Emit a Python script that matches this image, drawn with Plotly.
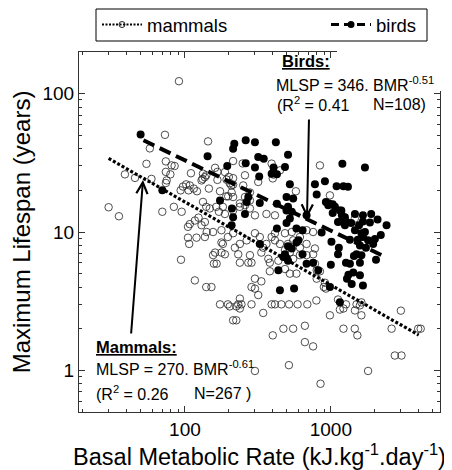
import math
import plotly.graph_objects as go

# values (BMR in kJ/kg/day, MLSP in years)
mammals_bmr = [91, 73, 57.5, 54.5, 38.8, 45.5, 59, 74, 81, 85, 74, 79.5, 75, 74, 144, 30, 35.3, 70, 84, 95,
               110, 161, 137, 132, 97, 102, 108, 115, 106, 121, 93.5, 167, 200, 208, 192, 108, 117, 124, 105, 105,
               120, 107, 94, 117, 214, 249, 188, 133, 140, 130, 167, 214, 258, 203, 214, 146, 174, 209, 198, 214,
               279, 393, 448, 405, 405, 318, 576, 251, 842, 986, 400, 133, 140, 148, 164, 182, 171, 188, 214, 238,
               258, 279, 302, 362, 414, 137, 130, 156, 141, 137, 178, 214, 197, 238, 220, 265, 302, 326, 344, 362,
               393, 414, 414, 448, 509, 552, 614, 682, 756, 614, 682, 485, 540, 161, 156, 158, 165, 178, 182, 178,
               188, 232, 238, 279, 272, 286, 334, 373, 382, 382, 437, 485, 524, 552, 614, 682, 756, 778, 485, 524,
               581, 778, 302, 334, 140, 152, 286, 302, 318, 238, 225, 232, 244, 238, 174, 197, 203, 286, 344, 393,
               414, 458, 518, 592, 690, 796, 214, 225, 473, 552, 664, 400, 2745, 3050, 1800, 850, 664, 756, 516, 302,
               3020, 2610, 3970, 4130, 1220, 1460, 1520, 986, 800, 925, 800, 1460, 842, 911, 896, 1120, 1270, 1220,
               1154, 1500, 1583, 1620, 1463, 1620, 193, 258, 279, 238]
mammals_mlsp = [123, 50.4, 40.2, 31.1, 26.1, 24.6, 24.2, 32.4, 30.3, 30, 27.2, 26.1, 23.6, 22.6, 45.2, 15.1, 13, 14,
                15.2, 14, 26.6, 29.1, 24.9, 24.2, 21.3, 22.1, 21.7, 20.6, 20, 19.7, 20, 27.2, 25, 21.7, 18.1, 11.4,
                12.1, 12.7, 10.9, 9.1, 9.1, 8.2, 6.3, 4.47, 32.6, 31.3, 27.1, 26.4, 25.7, 23.6, 23.8, 24.5, 25.7,
                22.5, 22, 20.6, 19.7, 19.3, 18.1, 17.9, 19.3, 31.2, 27.9, 27.1, 26, 23, 19.7, 21.7, 30.3, 18.4, 24.4,
                16.5, 15.2, 14.8, 15.2, 15.2, 14, 13.5, 14.3, 15.2, 15.6, 14.8, 13.2, 13.5, 13.2, 11.8, 11.2, 10, 10,
                9.2, 10.3, 9.8, 9.2, 8.2, 7.7, 8.7, 9.8, 9.2, 7.7, 8.2, 9.2, 9.8, 8.7, 8.2, 8.2, 8.7, 9.2, 10.3, 10,
                7.7, 8.2, 9.8, 10, 7.1, 6.8, 5.9, 5.9, 7.1, 8.2, 8.4, 6.9, 6.9, 6, 6.8, 6, 6, 7.1, 6.4, 6, 5.2, 6.2,
                7.4, 7.1, 6.4, 6.8, 6.8, 6.9, 7.6, 5.4, 5, 5, 5.9, 4.6, 4.4, 4.0, 4.0, 4.0, 3.9, 3.5, 3.3, 2.9, 3.0,
                3.0, 2.8, 3.0, 3.0, 2.9, 3.0, 2.6, 3.0, 3.0, 3.0, 3.0, 3.0, 3.0, 3.2, 2.3, 2.3, 2.0, 2.0, 2.1, 1.79,
                1.28, 1.28, 0.99, 0.8, 1.6, 1.49, 1.09, 0.99, 2.7, 2.0, 2.0, 2.0, 2.0, 2.0, 1.79, 2.5, 4.6, 3.9, 5.3,
                12.5, 5.2, 4.3, 4.0, 3.25, 3.0, 2.8, 2.75, 3.0, 2.95, 3.1, 2.71, 2.5, 23.9, 17.9, 16.9, 16.1]

birds_bmr = [49.7, 70, 143, 195, 218, 214, 210, 261, 302, 420, 509, 318, 347, 261, 302, 405, 485, 393, 427, 323,
             524, 272, 497, 1200, 1713, 778, 800, 1095, 1220, 1310, 552, 911, 509, 925, 960, 1067, 1154, 1190, 1249,
             1463, 1660, 1890, 2410, 1120, 1280, 1380, 265, 326, 427, 497, 540, 682, 214, 209, 258, 427, 497, 524,
             581, 640, 326, 509, 581, 485, 497, 509, 540, 682, 756, 437, 448, 560, 820, 174, 600, 640, 986, 1154,
             865, 1010, 473, 973, 1030, 1030, 1180, 1180, 1249, 1660, 1853, 2090, 1560, 1463, 1620, 1713, 1352,
             1530, 1660, 1800, 2005, 2200, 1583, 1740, 1950, 1135, 1500, 1440, 1620, 2040, 1120, 1270, 1352, 1583,
             1000, 1425, 1320, 1583, 1290, 1390, 1660]
birds_mlsp = [50.7, 20, 35.3, 30, 43.5, 40, 14.8, 46, 44.6, 44.6, 36.2, 34.9, 33.9, 31.4, 29.2, 29.2, 29.5, 26.4,
              26.1, 25.2, 22.1, 17.9, 17.9, 31.2, 29.2, 22.1, 18.7, 21.4, 21.4, 21.2, 17.5, 23.3, 15.2, 16.5, 15.6,
              15.2, 14.3, 13.2, 12.8, 13.5, 13.2, 13.5, 11.2, 11.8, 11.8, 11.6, 16.5, 16.2, 16.0, 14.3, 14, 13.2,
              12.8, 11.2, 13.5, 10.6, 11.6, 12.5, 10.6, 10.3, 8.2, 7.9, 8.4, 6.9, 6.5, 6.2, 7.6, 5.9, 6.0, 5.3, 3.8,
              3.9, 5.3, 16.9, 8.7, 6.9, 4.0, 3.1, 9.9, 8.5, 6.6, 16.1, 15.9, 13.7, 14.3, 11.9, 11.2, 11.9, 11.7,
              12.3, 11.2, 10.3, 9.8, 10, 8.8, 8.8, 9.2, 8.7, 8.9, 9.5, 8.0, 7.7, 8.2, 7.7, 6.9, 6.7, 6.8, 6.3, 6.9,
              6.0, 5.9, 6.0, 5.8, 5.1, 4.9, 4.86, 4.6, 4.2, 4.1]

# fitted lines, end points
mammals_fit_bmr = [30, 4000]
mammals_fit_mlsp = [34, 1.8]
birds_fit_bmr = [52, 2300]
birds_fit_mlsp = [46, 6.7]

FONT = "Liberation Sans, Arial, Helvetica, sans-serif"
AX = '#333333'
PAGE_PAD = 8   # the html body margin moves the figure 8px right and down
W, H = 452 - PAGE_PAD, 470 - PAGE_PAD

fig = go.Figure()

fig.add_trace(go.Scatter(x=mammals_bmr, y=mammals_mlsp, mode='markers', showlegend=False,
                         marker=dict(symbol='circle-open', size=7.5, color='#222222', line=dict(width=0.8))))
fig.add_trace(go.Scatter(x=birds_bmr, y=birds_mlsp, mode='markers', showlegend=False,
                         marker=dict(symbol='circle', size=8, color='black', line=dict(width=0))))
fig.add_trace(go.Scatter(x=mammals_fit_bmr, y=mammals_fit_mlsp, mode='lines', showlegend=False,
                         line=dict(color='black', width=3.2, dash='3px,2px')))
fig.add_trace(go.Scatter(x=birds_fit_bmr, y=birds_fit_mlsp, mode='lines', showlegend=False,
                         line=dict(color='black', width=4, dash='12px,6px')))

# legend entries only (one legend each, so they can sit at both ends of the box)
fig.add_trace(go.Scatter(x=[None], y=[None], mode='lines+markers', name='mammals', legend='legend',
                         line=dict(color='black', width=2, dash='2px,1.5px'),
                         marker=dict(symbol='circle-open', size=6, color='#222222', line=dict(width=1))))
fig.add_trace(go.Scatter(x=[None], y=[None], mode='lines+markers', name='birds', legend='legend2',
                         line=dict(color='black', width=3, dash='8px,5px'),
                         marker=dict(symbol='circle', size=7, color='black')))

x_minor = [m * 10 ** e for e in (1, 2, 3) for m in range(2, 10) if m * 10 ** e < 5600]
y_minor = [m * 10 ** e for e in (-1, 0, 1, 2) for m in range(2, 10) if 0.5 <= m * 10 ** e <= 200]


# reference picture pixels -> paper fractions of the plot area (x 79..440, y 52..412)
def px_x(p):
    return (p - 79) / 361.0


def px_y(p):
    return (412 - p) / 360.0


notes = [
    ('<b><u>Birds:</u></b>', 280, 61, 16.5),
    ('MLSP = 346. BMR<sup>-0.51</sup>', 274, 84, 16),
    ('(R<sup>2</sup> = 0.41', 275, 104, 16),
    ('N=108)', 371, 104, 16),
    ('<b><u>Mammals:</u></b>', 94, 347, 16.5),
    ('MLSP = 270. BMR<sup>-0.61</sup>', 94, 368, 16),
    ('(R<sup>2</sup> = 0.26', 94, 393, 16),
    ('N=267 )', 192, 393, 16),
]
annotations = []
for text, x, y, size in notes:
    annotations.append(dict(text=text, x=px_x(x), y=px_y(y), xref='paper', yref='paper',
                            xanchor='left', yanchor='middle', showarrow=False,
                            font=dict(size=size, family=FONT, color='black')))

# arrows pointing at the fitted lines
annotations.append(dict(text='', x=px_x(307), y=px_y(218), xref='paper', yref='paper',
                        ax=2, ay=-100, showarrow=True, arrowhead=5, arrowsize=1.1,
                        arrowwidth=2, arrowcolor='black'))
annotations.append(dict(text='', x=px_x(143), y=px_y(180), xref='paper', yref='paper',
                        ax=-12, ay=155, showarrow=True, arrowhead=5, arrowsize=1.1,
                        arrowwidth=2, arrowcolor='black'))

# legends placed on the whole figure, so they do not push the top margin
legend_common = dict(orientation='h', xref='container', yref='container',
                     y=1 - (25 - PAGE_PAD) / H, yanchor='middle', bgcolor='rgba(0,0,0,0)',
                     borderwidth=0, font=dict(size=18.5, family=FONT, color='black'), itemwidth=40)

fig.update_layout(
    width=W, height=H,
    margin=dict(l=79 - PAGE_PAD, r=12, t=52 - PAGE_PAD, b=58),
    paper_bgcolor='white', plot_bgcolor='white',
    font=dict(family=FONT, color='black', size=19),
    legend=dict(x=(97 - PAGE_PAD) / W, xanchor='left', **legend_common),
    legend2=dict(x=(422 - PAGE_PAD) / W, xanchor='right', **legend_common),
    annotations=annotations,
    shapes=[
        dict(type='rect', xref='paper', yref='paper', x0=px_x(337), x1=1.05,
             y0=px_y(91), y1=px_y(44), fillcolor='white', line=dict(width=0), layer='above'),
        dict(type='rect', xref='paper', yref='paper', x0=px_x(96), x1=px_x(427),
             y0=px_y(41), y1=px_y(9), fillcolor='rgba(0,0,0,0)', line=dict(color='black', width=1),
             layer='above'),
    ],
    xaxis=dict(type='log', range=[math.log10(18.8), math.log10(5600)], automargin=False,
               tickvals=[100, 1000], ticktext=['100', '1000'],
               ticks='inside', ticklen=6, tickcolor=AX, tickfont=dict(size=19),
               showline=True, linecolor=AX, linewidth=1, mirror='allticks',
               showgrid=False, zeroline=False,
               minor=dict(ticks='inside', ticklen=3, tickcolor=AX, tickvals=x_minor, showgrid=False),
               title=dict(text='Basal Metabolic Rate (kJ.kg<sup>-1</sup>.day<sup>-1</sup>)',
                          font=dict(size=23.5), standoff=10)),
    yaxis=dict(type='log', range=[math.log10(0.5), math.log10(200)], automargin=False,
               tickvals=[1, 10, 100], ticktext=['1', '10', '100'],
               ticks='inside', ticklen=6, tickcolor=AX, tickfont=dict(size=19),
               showline=True, linecolor=AX, linewidth=1, mirror='allticks',
               showgrid=False, zeroline=False,
               minor=dict(ticks='inside', ticklen=3, tickcolor=AX, tickvals=y_minor, showgrid=False),
               title=dict(text='Maximum Lifespan (years)', font=dict(size=24), standoff=8)),
)

fig.write_html("out.html")
